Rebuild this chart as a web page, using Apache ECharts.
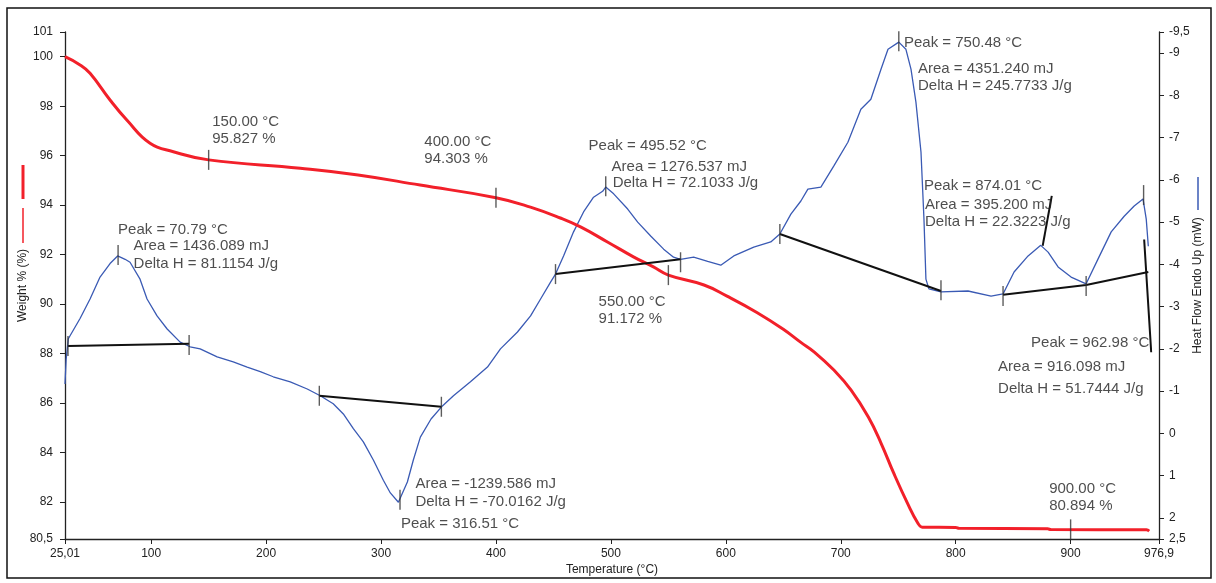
<!DOCTYPE html>
<html lang="en" style="height: 100%">
<head>
  <meta charset="UTF-8">
</head>
<body style="height: 100%; margin: 0">
  <div id="container" style="width: 1216px; height: 583px"></div>

  <script type="text/javascript" src="https://fastly.jsdelivr.net/npm/echarts@6/dist/echarts.min.js"></script>
  <script type="text/javascript">
    // TGA curve (left axis, weight %)
    var tgaTemp = [25.0, 38.1, 46.8, 64.2, 78.8, 99.0, 119.3, 150.0, 229.7, 280.0, 334.0, 400.0, 430.0, 456.0, 474.0,
      497.0, 520.0, 537.0, 550.0, 581.0, 601.0, 627.0, 650.0, 665.0, 677.0, 694.0, 709.0, 724.0, 735.0, 746.0,
      758.0, 767.0, 771.0, 800.0, 803.0, 880.0, 883.0, 966.0, 968.4];
    var tgaWeight = [100.0, 99.67, 99.33, 98.25, 97.44, 96.5, 96.16, 95.83, 95.49, 95.22, 94.81, 94.30, 93.92, 93.48, 93.11,
      92.51, 91.90, 91.50, 91.17, 90.77, 90.32, 89.66, 88.98, 88.46, 88.06, 87.33, 86.52, 85.43, 84.38, 83.17,
      81.95, 81.15, 80.98, 80.97, 80.93, 80.91, 80.88, 80.87, 80.82];

    // DSC curve (right axis, heat flow mW, endo up)
    var dscTemp = [25.0, 26.0, 27.9, 38.1, 46.8, 55.5, 64.2, 70.8, 77.3, 81.6, 90.3, 96.4, 105.1, 113.9, 125.2,
      133.9, 142.6, 157.4, 171.4, 183.5, 194.9, 206.2, 221.0, 235.8, 247.1, 258.4, 267.2, 275.9, 284.6, 293.3,
      302.0, 308.1, 315.1, 316.5, 322.9, 328.1, 334.2, 343.5, 353.4, 363.0, 377.8, 392.6, 403.9, 418.7, 430.1,
      438.8, 447.5, 451.8, 458.8, 467.5, 476.2, 484.9, 492.8, 495.5, 502.4, 514.6, 523.3, 534.6, 545.9, 554.5,
      560.6, 572.0, 584.2, 595.6, 606.9, 624.3, 639.1, 647.0, 656.6, 665.3, 671.4, 682.7, 694.0, 706.2, 717.5,
      726.2, 735.0, 741.1, 750.5, 756.7, 761.1, 765.4, 769.8, 772.4, 774.1, 776.7, 787.2, 810.7, 830.8, 841.2,
      850.8, 863.0, 874.0, 880.4, 889.1, 900.4, 913.5, 923.9, 935.3, 946.6, 955.3, 963.0, 965.8, 967.6];
    var dscHeat = [-1.17, -1.75, -2.24, -2.72, -3.18, -3.70, -4.02, -4.20, -4.12, -4.05, -3.65, -3.18, -2.78, -2.47, -2.16,
      -2.05, -2.00, -1.81, -1.69, -1.57, -1.46, -1.34, -1.22, -1.05, -0.89, -0.70, -0.46, -0.11, 0.20, 0.63,
      1.11, 1.41, 1.63, 1.67, 1.15, 0.63, 0.09, -0.34, -0.65, -0.89, -1.22, -1.57, -2.00, -2.40, -2.78,
      -3.18, -3.58, -3.77, -4.20, -4.77, -5.24, -5.59, -5.73, -5.83, -5.67, -5.31, -5.00, -4.67, -4.36, -4.17,
      -4.12, -4.17, -4.07, -3.98, -4.20, -4.41, -4.53, -4.72, -5.19, -5.50, -5.78, -5.83, -6.33, -6.89, -7.67,
      -7.91, -8.62, -9.09, -9.26, -9.09, -8.62, -7.84, -6.66, -5.07, -3.65, -3.42, -3.35, -3.37, -3.25, -3.30,
      -3.82, -4.20, -4.45, -4.29, -3.94, -3.70, -3.54, -4.13, -4.77, -5.14, -5.38, -5.55, -5.07, -4.43];

    // integration baselines and analysis lines on the DSC curve
    var baselines = [
      [[27.6, -2.07], [133.0, -2.12]],
      [[246.3, -0.89], [352.5, -0.63]],
      [[451.8, -3.77], [560.6, -4.12]],
      [[647.0, -4.72], [787.2, -3.37]],
      [[841.2, -3.28], [913.5, -3.51], [967.6, -3.82]],
      [[875.7, -4.44], [883.6, -5.62]],
      [[964.0, -4.59], [970.1, -1.92]]
    ];

    // small vertical markers
    var tgaTickTemp = [150, 400, 550, 900];
    var tgaTickWeight = [95.83, 94.30, 91.17, 80.89];
    var dscTickTemp = [27.6, 133.0, 71.2, 246.3, 352.5, 316.5, 451.8, 560.6, 495.5, 647.0, 750.5, 787.2, 841.2, 913.5, 963.5];
    var dscTickHeat = [-2.07, -2.09, -4.22, -0.89, -0.63, 1.57, -3.77, -4.05, -5.85, -4.72, -9.28, -3.39, -3.25, -3.49, -5.64];

    // text annotations (anchored at left-middle of each line, left axis units)
    var annoTemp = [153.1, 153.1, 337.7, 337.7, 489.3, 489.3, 881.3, 881.3,
      71.2, 84.7, 84.7,
      329.9, 329.9, 317.3,
      480.6, 500.6, 501.5,
      755.0, 767.2, 767.2,
      772.4, 773.3, 773.3,
      865.6, 836.9, 836.9];
    var annoWeight = [97.38, 96.69, 96.57, 95.89, 90.09, 89.41, 82.53, 81.82,
      93.01, 92.35, 91.64,
      82.72, 81.99, 81.11,
      96.39, 95.55, 94.88,
      100.57, 99.52, 98.84,
      94.78, 94.03, 93.33,
      88.42, 87.45, 86.56];
    var annoText = ['150.00 °C', '95.827 %', '400.00 °C', '94.303 %', '550.00 °C', '91.172 %', '900.00 °C', '80.894 %',
      'Peak = 70.79 °C', 'Area = 1436.089 mJ', 'Delta H = 81.1154 J/g',
      'Area = -1239.586 mJ', 'Delta H = -70.0162 J/g', 'Peak = 316.51 °C',
      'Peak = 495.52 °C', 'Area = 1276.537 mJ', 'Delta H = 72.1033 J/g',
      'Peak = 750.48 °C', 'Area = 4351.240 mJ', 'Delta H = 245.7733 J/g',
      'Peak = 874.01 °C', 'Area = 395.200 mJ', 'Delta H = 22.3223 J/g',
      'Peak = 962.98 °C', 'Area = 916.098 mJ', 'Delta H = 51.7444 J/g'];

    var FONT = '"Liberation Sans", Arial, sans-serif';
    var INK = '#222';

    function zip(a, b) {
      return a.map(function (v, i) { return [v, b[i]]; });
    }
    function comma(v) {
      return String(+(+v).toFixed(2)).replace('.', ',');
    }

    var dom = document.getElementById('container');
    var myChart = echarts.init(dom, null, { renderer: 'canvas' });

    var axisCommon = {
      nameLocation: 'middle',
      nameMoveOverlap: false,
      nameTextStyle: { color: INK, fontSize: 12, fontFamily: FONT },
      axisLine: { onZero: false, lineStyle: { color: INK, width: 1.3 } },
      axisTick: { length: 5, lineStyle: { color: INK, width: 1 } },
      axisLabel: { color: INK, fontSize: 12, fontFamily: FONT, formatter: comma, showMinLabel: true, showMaxLabel: true },
      splitLine: { show: false }
    };

    var series = [
      {
        type: 'line',
        yAxisIndex: 1,
        data: zip(dscTemp, dscHeat),
        showSymbol: false,
        lineStyle: { color: '#3a5ab4', width: 1.3 },
        z: 2
      },
      {
        type: 'line',
        yAxisIndex: 0,
        data: zip(tgaTemp, tgaWeight),
        smooth: 0.45,
        showSymbol: false,
        lineStyle: { color: '#f2202a', width: 3 },
        z: 3
      }
    ];
    baselines.forEach(function (seg) {
      series.push({
        type: 'line',
        yAxisIndex: 1,
        data: seg,
        showSymbol: false,
        lineStyle: { color: '#111', width: 2 },
        z: 4
      });
    });
    series.push({
      type: 'scatter',
      yAxisIndex: 0,
      data: zip(tgaTickTemp, tgaTickWeight),
      symbol: 'rect',
      symbolSize: [1.4, 20],
      itemStyle: { color: '#333' },
      z: 5
    });
    series.push({
      type: 'scatter',
      yAxisIndex: 1,
      data: zip(dscTickTemp, dscTickHeat),
      symbol: 'rect',
      symbolSize: [1.4, 20],
      itemStyle: { color: '#333' },
      z: 5
    });
    series.push({
      type: 'scatter',
      yAxisIndex: 0,
      data: annoTemp.map(function (t, i) {
        return { value: [t, annoWeight[i]], name: annoText[i] };
      }),
      symbolSize: 1,
      itemStyle: { color: 'transparent' },
      label: {
        show: true,
        position: 'inside',
        align: 'left',
        verticalAlign: 'middle',
        color: INK,
        fontSize: 15,
        fontFamily: FONT,
        formatter: function (p) { return p.name; }
      },
      z: 6
    });

    var option = {
      animation: false,
      backgroundColor: '#fff',
      textStyle: { fontFamily: FONT },
      grid: { left: 65, right: 57, top: 32, bottom: 44, outerBoundsMode: 'none' },
      xAxis: Object.assign({}, axisCommon, {
        type: 'value',
        min: 25.01,
        max: 976.9,
        splitNumber: 10,
        name: 'Temperature (°C)',
        nameGap: 25,
        axisLabel: Object.assign({}, axisCommon.axisLabel, { margin: 9 })
      }),
      yAxis: [
        Object.assign({}, axisCommon, {
          type: 'value',
          position: 'left',
          min: 80.5,
          max: 101,
          splitNumber: 10,
          name: 'Weight % (%)',
          nameRotate: 90,
          nameGap: 36,
          axisLabel: Object.assign({}, axisCommon.axisLabel, { margin: 12 })
        }),
        Object.assign({}, axisCommon, {
          type: 'value',
          position: 'right',
          min: -9.5,
          max: 2.5,
          inverse: true,
          splitNumber: 12,
          name: 'Heat Flow Endo Up (mW)',
          nameRotate: 90,
          nameGap: 33,
          axisLabel: Object.assign({}, axisCommon.axisLabel, { margin: 10 })
        })
      ],
      graphic: [
        { type: 'rect', shape: { x: 7, y: 8, width: 1204, height: 570 }, style: { fill: null, stroke: '#111', lineWidth: 1.5 }, silent: true },
        { type: 'line', shape: { x1: 23, y1: 165, x2: 23, y2: 199 }, style: { stroke: '#f2202a', lineWidth: 3 } },
        { type: 'line', shape: { x1: 23, y1: 208, x2: 23, y2: 243 }, style: { stroke: '#f2202a', lineWidth: 1.5 } },
        { type: 'line', shape: { x1: 1198, y1: 177, x2: 1198, y2: 210 }, style: { stroke: '#3a5ab4', lineWidth: 1.5 } }
      ],
      series: series
    };

    myChart.setOption(option);
    window.addEventListener('resize', myChart.resize);
  </script>
</body>
</html>
